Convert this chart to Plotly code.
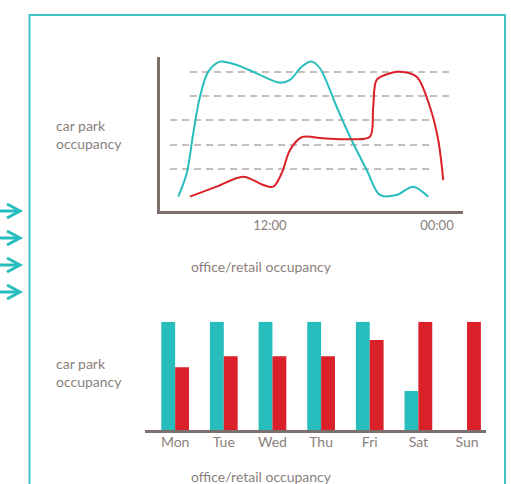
import plotly.graph_objects as go

# ---- data -------------------------------------------------------------
# daily profile (hour of day, occupancy %)
office_hours = [5.41, 6.02, 6.49, 6.97, 7.57, 8.41, 9.61, 11.04, 12.72, 13.44,
                14.28, 15.0, 15.59, 16.79, 17.75, 18.95, 19.90, 21.1, 22.29, 23.37]
office_occ = [9.3, 24.5, 50.5, 74.2, 90.5, 97, 94.8, 89.4, 83.3, 85.1,
              93.7, 97, 92.7, 67.7, 48.2, 26.6, 10.4, 10.4, 15.8, 9.3]

retail_hours = [6.25, 8.17, 10.08, 11.52, 12.24, 12.84, 13.44, 14.28, 15.83, 17.75,
                19.18, 19.42, 19.67, 20.62, 21.34, 22.54, 23.49, 24.09, 24.45]
retail_occ = [9.3, 15.8, 22.3, 16.9, 15.8, 24.5, 39.6, 47.9, 47.2, 46.6,
              48.2, 67.7, 85.1, 89.4, 90.5, 87.2, 67.7, 46.1, 20.1]

time_ticks = [12, 24]
time_labels = ["12:00", "00:00"]

# dashed reference levels: (level, start hour, end hour)
ref_levels = [90.3, 74.7, 59.1, 42.9, 27.3]
ref_start = [6.25, 6.25, 4.82, 4.82, 4.82]
ref_end = [24.93, 24.93, 23.49, 23.49, 23.49]

# weekly profile
days = ["Mon", "Tue", "Wed", "Thu", "Fri", "Sat", "Sun"]
office_week = [100, 100, 100, 100, 100, 36, 0]
retail_week = [58, 68, 68, 68, 83, 100, 100]

# ---- styling ----------------------------------------------------------
W, H = 511, 484
TEAL = "#27bdbd"
RED = "#da2029"
AXIS = "#7c706d"
GRID = "#b3aaa7"
TEXT = "#8a7f7c"
FONT = "Lato"


def fx(px):
    return px / W


def fy(py):
    return 1 - py / H


fig = go.Figure()

for lvl, x0, x1 in zip(ref_levels, ref_start, ref_end):
    fig.add_trace(go.Scatter(
        x=[x0, x1], y=[lvl, lvl], mode="lines",
        line=dict(color=GRID, width=1.5, dash="7px,5px"),
        hoverinfo="skip", showlegend=False, xaxis="x", yaxis="y"))

fig.add_trace(go.Scatter(
    x=office_hours, y=office_occ, mode="lines",
    line=dict(color=TEAL, width=2, shape="spline", smoothing=0.9),
    showlegend=False, xaxis="x", yaxis="y"))
fig.add_trace(go.Scatter(
    x=retail_hours, y=retail_occ, mode="lines",
    line=dict(color=RED, width=2, shape="spline", smoothing=0.9),
    showlegend=False, xaxis="x", yaxis="y"))

fig.add_trace(go.Bar(x=days, y=office_week, marker=dict(color=TEAL, line_width=0),
                     showlegend=False, xaxis="x2", yaxis="y2"))
fig.add_trace(go.Bar(x=days, y=retail_week, marker=dict(color=RED, line_width=0),
                     showlegend=False, xaxis="x2", yaxis="y2"))

annotations = []
for y_top in (126, 364):
    annotations.append(dict(
        text="car park<br>occupancy", x=fx(54), y=fy(y_top - 11), xref="paper", yref="paper",
        xanchor="left", yanchor="top", align="left", showarrow=False,
        font=dict(family=FONT, size=14, color=TEXT)))
for y_mid in (266, 476):
    annotations.append(dict(
        text="office/retail occupancy", x=fx(261), y=fy(y_mid), xref="paper", yref="paper",
        xanchor="center", yanchor="middle", showarrow=False,
        font=dict(family=FONT, size=14, color=TEXT)))

shapes = [dict(type="rect", xref="paper", yref="paper",
               x0=fx(29.5), x1=fx(505), y0=fy(495), y1=fy(15),
               line=dict(color="#3ec5c5", width=2), fillcolor="rgba(0,0,0,0)")]
for cy in (211, 238, 265, 292):
    shaft = f"M {fx(0)},{fy(cy)} L {fx(19)},{fy(cy)}"
    head = f"M {fx(7)},{fy(cy - 7)} L {fx(20)},{fy(cy)} L {fx(7)},{fy(cy + 7)}"
    for p in (shaft, head):
        shapes.append(dict(type="path", xref="paper", yref="paper", path=p,
                           line=dict(color=TEAL, width=3)))

fig.update_layout(
    width=W, height=H, autosize=False,
    margin=dict(l=0, r=0, t=0, b=0),
    paper_bgcolor="white", plot_bgcolor="white",
    barmode="group", bargap=0.43, bargroupgap=0,
    font=dict(family=FONT, color=TEXT),
    xaxis=dict(domain=[fx(160), fx(463)], range=[4.10, 25.87], anchor="y",
               tickvals=time_ticks, ticktext=time_labels,
               showgrid=False, zeroline=False, showline=True,
               linecolor=AXIS, linewidth=3, ticks="", ticklabelstandoff=0,
               tickfont=dict(family=FONT, size=13, color=TEXT)),
    yaxis=dict(domain=[fy(211), fy(57)], range=[0, 100], anchor="x",
               showgrid=False, zeroline=False, showline=True,
               linecolor=AXIS, linewidth=3, showticklabels=False, ticks=""),
    xaxis2=dict(domain=[fx(145), fx(486)], range=[-0.62, 6.39], anchor="y2",
                showgrid=False, zeroline=False, showline=True,
                linecolor=AXIS, linewidth=3, ticks="", ticklabelstandoff=-3,
                tickfont=dict(family=FONT, size=14, color=TEXT)),
    yaxis2=dict(domain=[fy(430), fy(321.7)], range=[0, 100], anchor="x2",
                showgrid=False, zeroline=False, showline=False,
                showticklabels=False, ticks=""),
    annotations=annotations,
    shapes=shapes,
)

fig.write_html("out.html")
